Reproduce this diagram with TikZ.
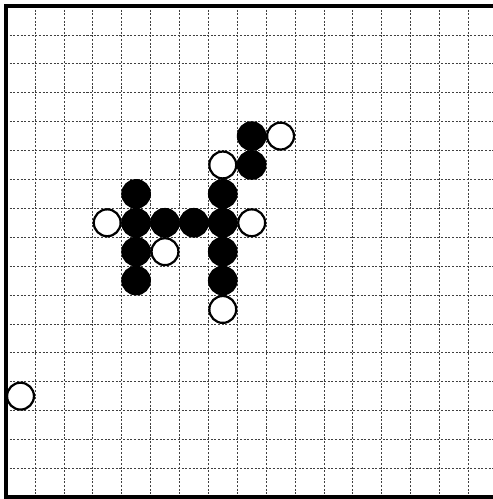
\documentclass[tikz,border=0pt]{standalone}
\begin{document}
\begin{tikzpicture}[x=1cm, y=1cm]
  \tikzstyle{gridline} = [black!75, line width=0.7pt, dash pattern=on 2pt off 1.6pt]
  \tikzstyle{boardedge} = [line width=3.8pt, line cap=rect]
  \tikzstyle{blackstone} = [circle, draw, fill=black, line width=2.2pt, minimum size=0.95cm, inner sep=0pt]
  \tikzstyle{whitestone} = [circle, draw, fill=white, line width=2.2pt, minimum size=0.93cm, inner sep=0pt]

  \useasboundingbox (-1.21,1.21) rectangle (15.85,-16.06);

  % grid
  \foreach \i in {0,...,15} {
    \draw[gridline] (\i,1) -- (\i,-16);
    \draw[gridline] (-1,-\i) -- (15.85,-\i);
  }
  \draw[boardedge] (15.9,1) -- (-1,1) -- (-1,-16) -- (15.9,-16);

  % black stones
  \foreach \c/\r [count=\n] in {7/3, 7/4, 6/5, 6/6, 6/7, 6/8, 3/5, 3/6, 4/6, 5/6, 3/7, 3/8}
    \node[blackstone] (b\n) at (\c+0.5,-\r-0.5) {};

  % white stones
  \foreach \c/\r [count=\n] in {8/3, 6/4, 6/9, 7/6, 2/6, 4/7, -1/12}
    \node[whitestone] (w\n) at (\c+0.5,-\r-0.5) {};
\end{tikzpicture}
\end{document}
